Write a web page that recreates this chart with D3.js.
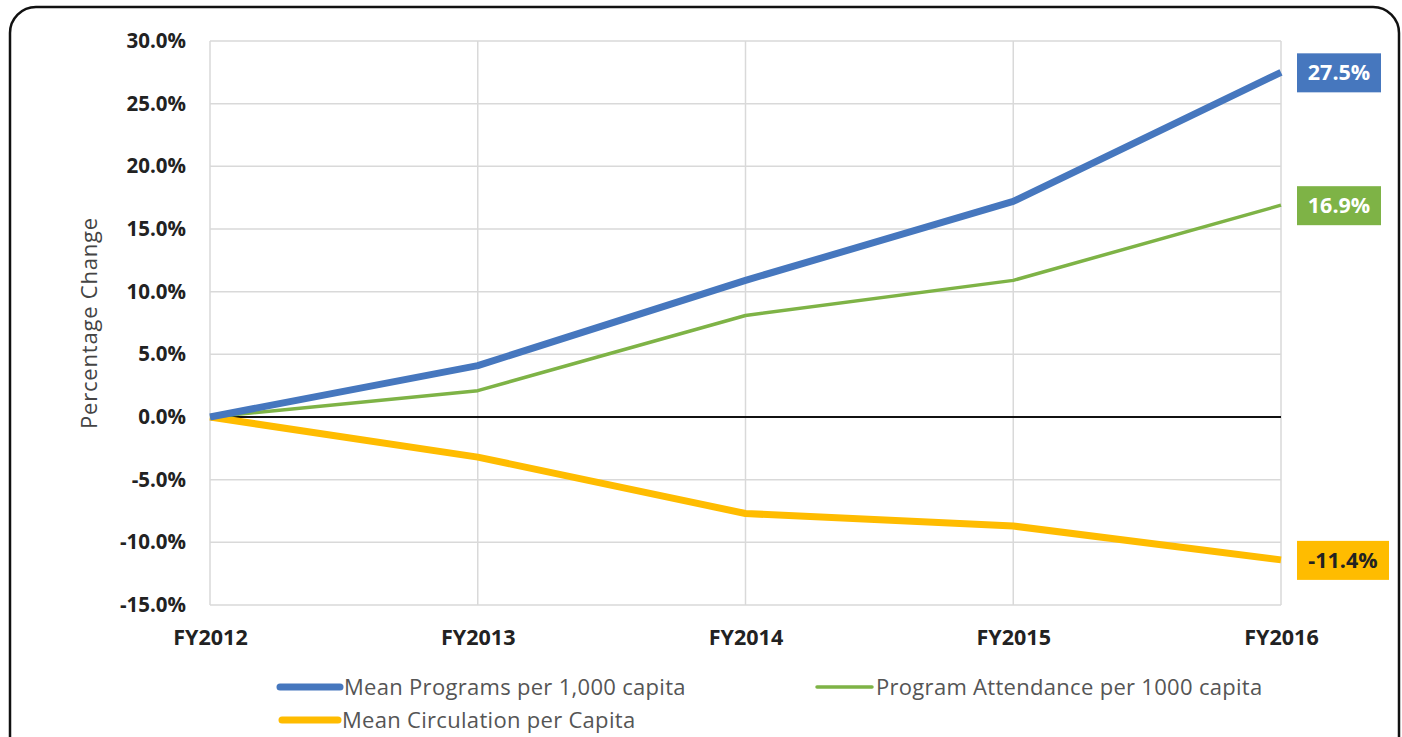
<!DOCTYPE html>
<html><head><meta charset="utf-8">
<script src="https://cdn.jsdelivr.net/npm/d3@7"></script>
<style>body{margin:0;background:#fff}svg{display:block}text{font-family:"Open Sans",sans-serif}</style>
</head><body>
<svg id="c" width="1402" height="737"></svg>
<script>
const categories = ["FY2012","FY2013","FY2014","FY2015","FY2016"];
const programs = [0, 4.1, 10.9, 17.2, 27.5];
const attendance = [0, 2.1, 8.1, 10.9, 16.9];
const circulation = [0, -3.2, -7.7, -8.7, -11.4];
const yTicks = [30,25,20,15,10,5,0,-5,-10,-15];
const seriesNames = ["Mean Programs per 1,000 capita","Program Attendance per 1000 capita","Mean Circulation per Capita"];
const colors = ["#4677BE","#7EB346","#FFBC00"];
const widths = [7,3.5,7];
const fmt = d => (d < 0 ? "-" : "") + Math.abs(d).toFixed(1) + "%";

const svg = d3.select("#c");
svg.append("rect").attr("x",10).attr("y",7).attr("width",1389).attr("height",760).attr("rx",26)
  .attr("fill","#fff").attr("stroke","#111").attr("stroke-width",2.5);

const x = d3.scalePoint().domain(categories).range([210,1281]);
const y = d3.scaleLinear().domain([-15,30]).range([605,41]);

const g = svg.append("g");
g.selectAll("line.h").data(yTicks).join("line").attr("class","h")
  .attr("x1",210).attr("x2",1281).attr("y1",d=>y(d)).attr("y2",d=>y(d))
  .attr("stroke","#d9d9d9").attr("stroke-width",1.5);
g.selectAll("line.v").data(categories).join("line").attr("class","v")
  .attr("x1",d=>x(d)).attr("x2",d=>x(d)).attr("y1",y(30)).attr("y2",y(-15))
  .attr("stroke","#d9d9d9").attr("stroke-width",1.5);
g.append("line").attr("x1",210).attr("x2",1281).attr("y1",y(0)).attr("y2",y(0)).attr("stroke","#111").attr("stroke-width",2);

const ya = svg.append("g").attr("transform","translate(210,0)")
  .call(d3.axisLeft(y).tickValues(yTicks).tickSize(0).tickPadding(24).tickFormat(fmt));
ya.select(".domain").remove();
ya.selectAll("text").attr("font-size",20.5).attr("font-weight","bold").attr("fill","#222").attr("font-family","Open Sans");

const xa = svg.append("g").attr("transform","translate(0,"+y(-15)+")")
  .call(d3.axisBottom(x).tickSize(0).tickPadding(25));
xa.select(".domain").remove();
xa.selectAll("text").attr("font-size",21.5).attr("font-weight","bold").attr("fill","#222").attr("font-family","Open Sans");

svg.append("text").attr("transform","translate(97,323) rotate(-90)").attr("text-anchor","middle")
  .attr("font-size",22).attr("letter-spacing",0.8).attr("fill","#444").text("Percentage Change");

const data = [programs, attendance, circulation];
const line = d3.line().x((d,i)=>x(categories[i])).y(d=>y(d));
[2,1,0].forEach(k=>{
  svg.append("path").attr("d",line(data[k])).attr("fill","none").attr("stroke",colors[k])
    .attr("stroke-width",widths[k]).attr("stroke-linejoin","round");
});

const labelBoxes = [{k:0,w:84,tc:"#fff"},{k:1,w:84,tc:"#fff"},{k:2,w:92,tc:"#222"}];
labelBoxes.forEach(b=>{
  const v = data[b.k][4];
  const cy = y(v);
  svg.append("rect").attr("x",1297).attr("y",cy-19).attr("width",b.w).attr("height",39).attr("fill",colors[b.k]);
  svg.append("text").attr("x",1297+b.w/2).attr("y",cy+8).attr("text-anchor","middle")
    .attr("font-size",21.5).attr("font-weight","bold").attr("fill",b.tc).text(fmt(v));
});

const leg = [{k:0,x1:280,x2:340,y:687},{k:1,x1:817,x2:872,y:687},{k:2,x1:282,x2:338,y:720}];
leg.forEach(l=>{
  svg.append("line").attr("x1",l.x1).attr("x2",l.x2).attr("y1",l.y).attr("y2",l.y)
    .attr("stroke",colors[l.k]).attr("stroke-width",widths[l.k]).attr("stroke-linecap","round");
  svg.append("text").attr("x",l.x2+4).attr("y",l.y+8).attr("font-size",22).attr("letter-spacing",0.3).attr("fill","#555").text(seriesNames[l.k]);
});
</script>
</body></html>
